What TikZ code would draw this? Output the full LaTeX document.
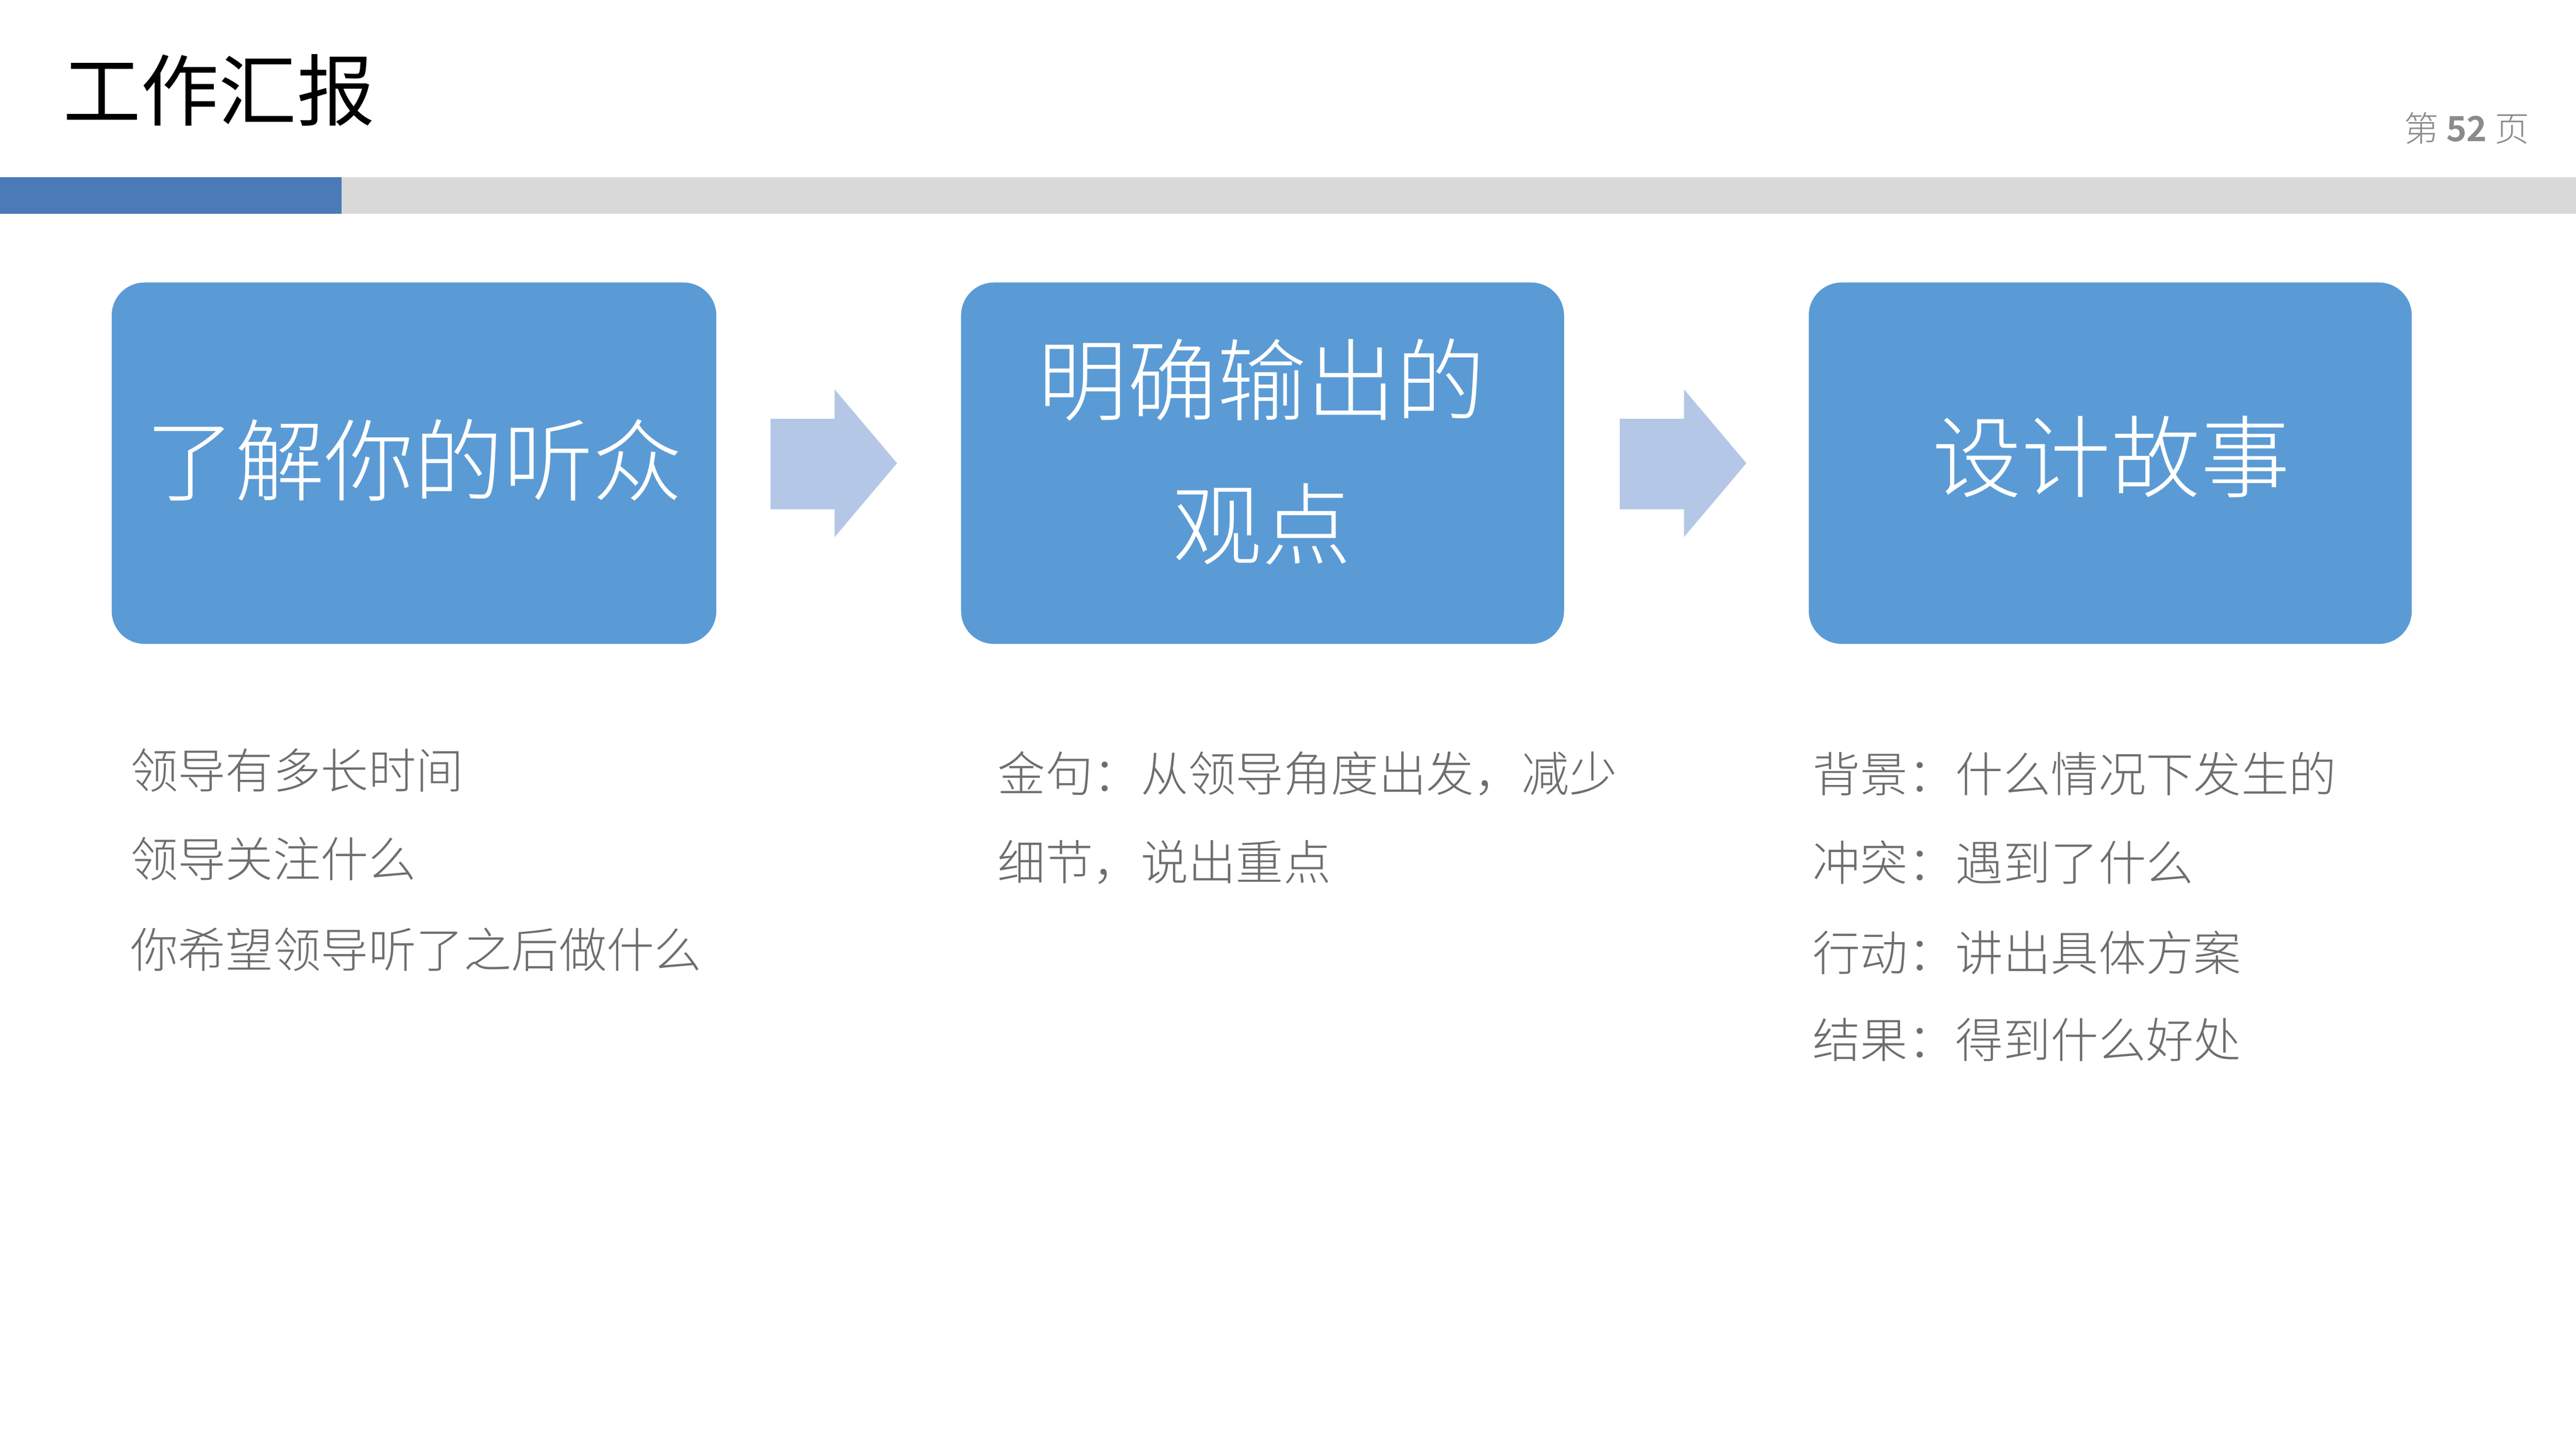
\documentclass[tikz,border=0pt]{standalone}
\usepackage{fontspec}
\setmainfont{Noto Sans CJK SC}
\newfontfamily\cjk{Noto Sans CJK SC}
\newfontfamily\cjkl{Noto Sans CJK SC Light}
\definecolor{boxblue}{HTML}{5B9BD5}
\definecolor{arrblue}{HTML}{B4C7E7}
\definecolor{barblue}{HTML}{4A7AB7}
\definecolor{bargray}{HTML}{D9D9D9}
\definecolor{txtgray}{HTML}{6E6E6E}
\tikzset{
 stepbox/.style={fill=boxblue,draw=none,rounded corners=0.4cm},
 boxtext/.style={text=white,font=\cjkl\fontsize{31}{50}\selectfont,align=center},
 item/.style={anchor=west,text=txtgray,font=\cjkl\fontsize{16.5}{20}\selectfont,inner sep=0pt},
 flow/.style={fill=arrblue,draw=none}
}
\begin{document}
\begin{tikzpicture}[x=0.02cm,y=-0.02cm]
\useasboundingbox (0,0) rectangle (1568,882);
\fill[white] (0,0) rectangle (1568,882);
\node[anchor=west,inner sep=0pt,font=\cjk\fontsize{27}{30}\selectfont] (title) at (38,55) {工作汇报};
\node[anchor=east,inner sep=0pt,text=txtgray!80,font=\cjkl\fontsize{12}{14}\selectfont] (page) at (1540,78) {第 \textbf{52} 页};
\fill[bargray] (0,108) rectangle (1568,130);
\fill[barblue] (0,108) rectangle (208,130);
\fill[stepbox] (68,172) rectangle (436,392);
\fill[stepbox] (585,172) rectangle (952,392);
\fill[stepbox] (1101,172) rectangle (1468,392);
\node[boxtext] (b1) at (252,280) {了解你的听众};
\node[boxtext] (b2) at (768,275) {明确输出的\\观点};
\node[boxtext] (b3) at (1285,278) {设计故事};
\fill[flow] (469,255) -- (508,255) -- (508,237) -- (546,282) -- (508,327) -- (508,310) -- (469,310) -- cycle;
\fill[flow] (986,255) -- (1025,255) -- (1025,237) -- (1063,282) -- (1025,327) -- (1025,310) -- (986,310) -- cycle;
\node[item] (l1) at (79,469) {领导有多长时间};
\node[item] (l2) at (79,523) {领导关注什么};
\node[item] (l3) at (79,578) {你希望领导听了之后做什么};
\node[item] (m1) at (607,471) {金句：从领导角度出发，减少};
\node[item] (m2) at (607,525) {细节，说出重点};
\node[item] (r1) at (1103,471) {背景：什么情况下发生的};
\node[item] (r2) at (1103,525) {冲突：遇到了什么};
\node[item] (r3) at (1103,580) {行动：讲出具体方案};
\node[item] (r4) at (1103,633) {结果：得到什么好处};
\end{tikzpicture}
\end{document}
